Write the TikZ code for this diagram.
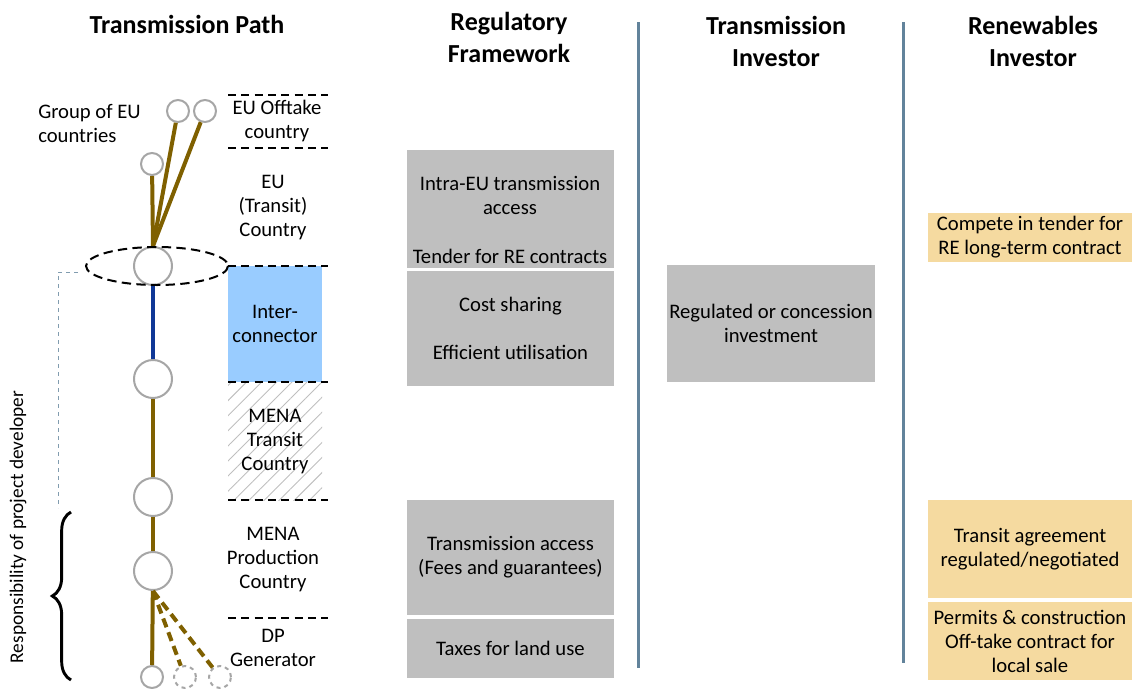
\documentclass[tikz,border=0pt]{standalone}
\usepackage{fontspec}
\setmainfont{Carlito}
\usetikzlibrary{patterns.meta,decorations.pathreplacing,positioning}
\definecolor{cable}{RGB}{127,96,0}
\definecolor{link}{RGB}{15,55,150}
\definecolor{ring}{RGB}{166,166,166}
\definecolor{divider}{RGB}{98,131,155}
\definecolor{sky}{RGB}{153,204,255}
\definecolor{boxgray}{RGB}{191,191,191}
\definecolor{tan}{RGB}{245,218,160}

\begin{document}
\begin{tikzpicture}[x=0.75pt, y=-0.75pt,
		head/.style={font=\fontsize{19.5}{24}\selectfont\bfseries, align=center},
		txt/.style={font=\fontsize{15.5}{18}\selectfont, align=center, inner sep=0pt},
		regbox/.style={txt, fill=boxgray, minimum width=155.25pt},
		invbox/.style={txt, fill=boxgray, minimum width=156pt},
		rebox/.style={txt, fill=tan, minimum width=153pt},
		bigdot/.style={circle, draw=ring, line width=1.5pt, fill=white, minimum size=28.5pt, inner sep=0pt},
		dot/.style={bigdot, minimum size=16.5pt},
		ghost/.style={dot, dashed},
		cableline/.style={draw=cable, line width=3pt},
		sepline/.style={draw=black, line width=1.8pt, dash pattern=on 6pt off 4pt},
		divline/.style={draw=divider, line width=2.25pt},
	]
		\useasboundingbox (0,0) rectangle (1132,689);

		% column headers
		\node (hpath) [head] at (187,24) {Transmission Path};
		\node (hreg) [head] at (509,37) {Regulatory\\Framework};
		\node (hti) [head] at (776,41) {Transmission\\Investor};
		\node (hri) [head] at (1033,41) {Renewables\\Investor};

		\draw[divline] (638,22) -- (638,668);
		\draw[divline] (903,22) -- (903,663);

		% country bands
		\node (inter) [txt, fill=sky, minimum width=70.5pt, minimum height=87pt] at (275,324) {Inter-\\connector};
		\node (menatr) [txt, minimum width=70.5pt, minimum height=88.5pt,
			pattern={Lines[angle=45, distance=8pt, line width=0.7pt]}, pattern color=gray!50] at (275,441) {};
		\node (menatrtxt) [txt] at (275,442) {MENA\\Transit\\Country};
		\node (offtake) [txt] at (277,121) {EU Offtake\\country};
		\node (eutr) [txt] at (273,208) {EU\\(Transit)\\Country};
		\node (prod) [txt] at (273,560) {MENA\\Production\\Country};
		\node (dp) [txt] at (273,648) {DP\\Generator};
		\foreach \yy in {95,148,266,382,500,618}
			\draw[sepline] (228,\yy) -- (328,\yy);

		% transmission path
		\node (group) [txt, align=left, anchor=west] at (38,123) {Group of EU\\countries};
		\node (n1) [bigdot] at (153,266) {};
		\node (n2) [bigdot] at (153,379) {};
		\node (n3) [bigdot] at (153,497) {};
		\node (n4) [bigdot] at (153,571) {};
		\node (g1) [dot] at (152,164) {};
		\node (g2) [dot] at (178,111) {};
		\node (g3) [dot] at (205,111) {};
		\node (d1) [dot] at (152,677) {};
		\node (d2) [ghost] at (185,677) {};
		\node (d3) [ghost] at (220,677) {};

		\draw[cableline] (n1.north) -- (g1);
		\draw[cableline] (n1.north) -- (g2);
		\draw[cableline] (n1.north) -- (g3);
		\draw[draw=link, line width=3pt] (n1) -- (n2);
		\draw[cableline] (n2) -- (n3);
		\draw[cableline] (n3) -- (n4);
		\draw[cableline] (n4) -- (d1);
		\draw[cableline, dash pattern=on 7pt off 4pt] (n4.south) -- (d2);
		\draw[cableline, dash pattern=on 7pt off 4pt] (n4.south) -- (d3);

		\draw[black, line width=1.5pt, dash pattern=on 7pt off 4pt] (157,266) ellipse [x radius=71, y radius=19];

		% developer responsibility
		\draw[divider!80, line width=0.6pt, dashed] (78,272) -- (58,272) -- (58,508);
		\draw[line width=2.2pt, decorate, decoration={brace, amplitude=14pt}] (71,680) -- (71,512);
		\node (resp) [txt, font=\fontsize{14.5}{18}\selectfont, rotate=90] at (18,527) {Responsibility of project developer};

		% regulatory framework
		\node (intra) [regbox, minimum height=88.5pt] at (510.5,209) {};
		\node (intratxt) [txt] at (510,195) {Intra-EU transmission\\access};
		\node (tender) [txt] at (510,256) {Tender for RE contracts};
		\node (cost) [regbox, minimum height=86.25pt] at (510.5,328.5) {Cost sharing\\[18pt]Efficient utilisation};
		\node (access) [regbox, minimum height=86.25pt] at (510.5,557.5) {Transmission access\\(Fees and guarantees)};
		\node (taxes) [regbox, minimum height=44.25pt] at (510.5,648.5) {Taxes for land use};

		% transmission investor
		\node (regul) [invbox, minimum height=87.75pt] at (771,323.5) {Regulated or concession\\investment};

		% renewables investor
		\node (compete) [rebox, minimum height=36.75pt] at (1030,237.5) {Compete in tender for\\RE long-term contract};
		\node (transit) [rebox, minimum height=73.5pt] at (1030,549) {Transit agreement\\regulated/negotiated};
		\node (permits) [rebox, minimum height=58.5pt] at (1030,641) {Permits \& construction\\Off-take contract for\\local sale};
	\end{tikzpicture}
\end{document}
